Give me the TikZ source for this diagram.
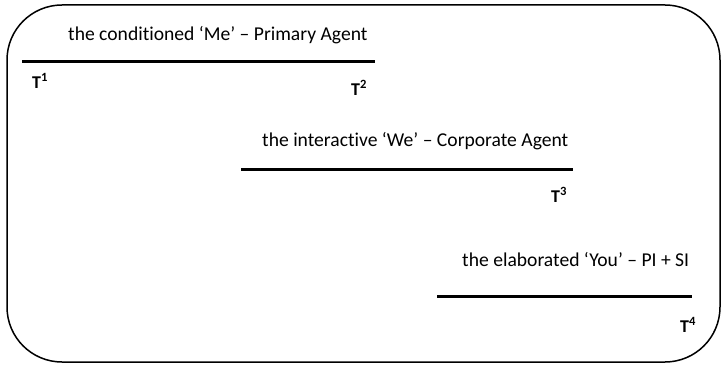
\documentclass[tikz,border=0pt]{standalone}
\usepackage{fontspec}
\setmainfont[Ligatures={NoCommon}]{Carlito}
\begin{document}
\begin{tikzpicture}[x=1pt,y=-1pt,
  lbl/.style={inner sep=0pt,anchor=west,font=\fontsize{19.6}{22}\selectfont},
  tl/.style={inner sep=0pt,font=\bfseries\fontsize{18}{20}\selectfont},
  bar/.style={line width=3pt}]
\useasboundingbox (0,0) rectangle (725,366);
\draw[line width=1.5pt,rounded corners=55pt] (7,5) rectangle (720,362);
\node[lbl] (t1) at (68,35) {the conditioned ‘Me’ – Primary Agent};
\node[lbl] (t2) at (262,141) {the interactive ‘We’ – Corporate Agent};
\node[lbl] (t3) at (462,260) {the elaborated ‘You’ – PI + SI};
\coordinate (a1) at (22,62); \coordinate (b1) at (375,62);
\coordinate (a2) at (241,170); \coordinate (b2) at (573,170);
\coordinate (a3) at (437,296); \coordinate (b3) at (692,296);
\draw[bar] (a1) -- (b1);
\draw[bar] (a2) -- (b2);
\draw[bar] (a3) -- (b3);
\node[tl] (T1) at (40,81) {T\textsuperscript{1}};
\node[tl] (T2) at (359,88) {T\textsuperscript{2}};
\node[tl] (T3) at (559,195) {T\textsuperscript{3}};
\node[tl] (T4) at (688,325) {T\textsuperscript{4}};
\end{tikzpicture}
\end{document}
